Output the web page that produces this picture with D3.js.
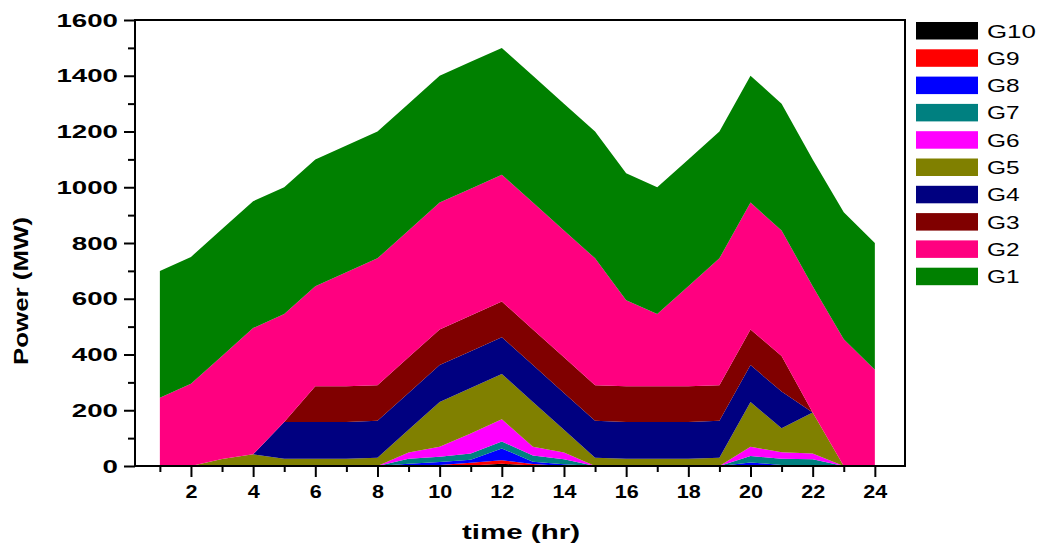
<!DOCTYPE html>
<html lang="en">
<head>
    <meta charset="UTF-8">
    <script src="https://cdn.jsdelivr.net/npm/d3@7"></script>
    <title>Generator output</title>
    <style>
        html, body {
            margin: 0px;
            padding: 0px;
            background-color: #ffffff;
            font-family: "Liberation Sans", Arial, sans-serif;
        }
        .axis path, .axis line { stroke: #000; stroke-width: 2; }
        .axis text { font-weight: bold; font-size: 18px; fill: #000; }
    </style>
</head>
<body>
    <div id="chart"></div>

    <script>
        // hours and per-generator output (MW)
        let hours = d3.range(1, 25);
        let G1  = [455,455,455,455,455,455,455,455,455,455,455,455,455,455,455,455,455,455,455,455,455,455,455,455];
        let G2  = [245,295,370,453,387,359,409,455,455,455,455,455,455,455,455,309,259,359,455,455,450,453,455,345];
        let G3  = [0,0,0,0,0,128,128,128,128,128,128,128,128,128,128,128,128,128,128,128,128,0,0,0];
        let G4  = [0,0,0,0,132,132,132,132,132,132,132,132,132,132,132,132,132,132,132,132,132,0,0,0];
        let G5  = [0,0,25,42,26,26,26,30,82,161,163,162,161,82,30,26,26,26,30,161,86,147,0,0];
        let G6  = [0,0,0,0,0,0,0,0,22,36,72,80,31,24,0,0,0,0,0,33,23,21,0,0];
        let G7  = [0,0,0,0,0,0,0,0,18,19,23,25,23,18,0,0,0,0,0,23,22,23,0,0];
        let G8  = [0,0,0,0,0,0,0,0,8,10,10,42,8,6,0,0,0,0,0,13,4,1,0,0];
        let G9  = [0,0,0,0,0,0,0,0,0,4,10,13,5,0,0,0,0,0,0,0,0,0,0,0];
        let G10 = [0,0,0,0,0,0,0,0,0,0,2,8,2,0,0,0,0,0,0,0,0,0,0,0];

        // stacking order: G10 at the bottom, G1 on top
        let names = ['G10','G9','G8','G7','G6','G5','G4','G3','G2','G1'];
        let series = {G1, G2, G3, G4, G5, G6, G7, G8, G9, G10};
        let colors = {
            G10: '#000000', G9: '#ff0000', G8: '#0000ff', G7: '#008080', G6: '#ff00ff',
            G5: '#808000', G4: '#000080', G3: '#800000', G2: '#ff0080', G1: '#008000'
        };

        let yMajor = d3.range(0, 1601, 200);
        let yMinor = d3.range(100, 1600, 200);
        let xMajor = d3.range(2, 25, 2);
        let xMinor = d3.range(1, 25, 2);

        let width = 1047, height = 549;
        let margin = {top: 20, right: 142, bottom: 83, left: 135};

        let table = hours.map((h, i) => {
            let row = {hour: h};
            names.forEach(n => row[n] = series[n][i]);
            return row;
        });

        let svg = d3.select('#chart').append('svg')
            .attr('width', width)
            .attr('height', height);

        let x = d3.scaleLinear().domain([0.2, 24.97]).range([margin.left, width - margin.right]);
        let y = d3.scaleLinear().domain([0, 1600]).range([height - margin.bottom, margin.top]);

        let stacked = d3.stack().keys(names)(table);

        let area = d3.area()
            .x(d => x(d.data.hour))
            .y0(d => y(d[0]))
            .y1(d => y(d[1]));

        svg.append('g')
            .selectAll('path')
            .data(stacked)
            .join('path')
            .attr('fill', d => colors[d.key])
            .attr('d', area);

        // frame
        let x0 = margin.left, x1 = width - margin.right;
        let y0 = height - margin.bottom, y1 = margin.top;
        svg.append('rect')
            .attr('x', x0).attr('y', y1)
            .attr('width', x1 - x0).attr('height', y0 - y1)
            .attr('fill', 'none').attr('stroke', '#000').attr('stroke-width', 2);

        // y axis
        let yAxis = svg.append('g').attr('class', 'axis').attr('transform', `translate(${x0},0)`)
            .call(d3.axisLeft(y).tickValues(yMajor).tickFormat(d3.format('d'))
                .tickSize(11).tickPadding(6).tickSizeOuter(0));
        yAxis.select('.domain').remove();
        yAxis.selectAll('text')
            .style('font-size', '19px')
            .attr('textLength', d => String(d).length * 15.4)
            .attr('lengthAdjust', 'spacingAndGlyphs');
        let yMin = svg.append('g').attr('class', 'axis').attr('transform', `translate(${x0},0)`)
            .call(d3.axisLeft(y).tickValues(yMinor).tickSize(7).tickFormat(''));
        yMin.select('.domain').remove();

        // x axis
        let xAxis = svg.append('g').attr('class', 'axis').attr('transform', `translate(0,${y0})`)
            .call(d3.axisBottom(x).tickValues(xMajor).tickSize(11).tickPadding(8).tickSizeOuter(0));
        xAxis.select('.domain').remove();
        xAxis.selectAll('text')
            .attr('textLength', d => String(d).length * 12)
            .attr('lengthAdjust', 'spacingAndGlyphs');
        let xMin = svg.append('g').attr('class', 'axis').attr('transform', `translate(0,${y0})`)
            .call(d3.axisBottom(x).tickValues(xMinor).tickSize(6).tickFormat(''));
        xMin.select('.domain').remove();

        // axis titles
        svg.append('text')
            .attr('x', 521).attr('y', 539)
            .attr('text-anchor', 'middle')
            .attr('font-weight', 'bold').attr('font-size', 21)
            .attr('textLength', 118).attr('lengthAdjust', 'spacingAndGlyphs')
            .text('time (hr)');
        svg.append('text')
            .attr('transform', 'translate(28,291) rotate(-90)')
            .attr('text-anchor', 'middle')
            .attr('font-weight', 'bold').attr('font-size', 21)
            .attr('textLength', 148).attr('lengthAdjust', 'spacingAndGlyphs')
            .text('Power (MW)');

        // legend
        let legend = svg.append('g').attr('transform', 'translate(916,22)');
        let item = legend.selectAll('g')
            .data(names)
            .join('g')
            .attr('transform', (d, i) => `translate(0,${i * 27.3})`);
        item.append('rect')
            .attr('width', 62).attr('height', 17.5)
            .attr('fill', d => colors[d]);
        item.append('text')
            .attr('x', 71).attr('y', 15.5)
            .attr('font-size', 19)
            .attr('textLength', d => d.length * 16.3)
            .attr('lengthAdjust', 'spacingAndGlyphs')
            .text(d => d);
    </script>
</body>
</html>
